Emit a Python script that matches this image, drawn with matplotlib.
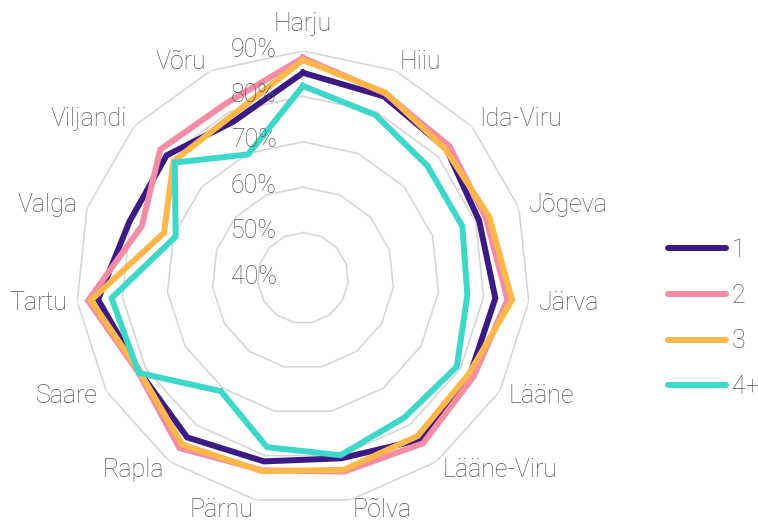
import numpy as np
from matplotlib import pyplot as plt
from matplotlib.lines import Line2D

regions = ["Harju", "Hiiu", "Ida-Viru", "Jõgeva", "Järva", "Lääne", "Lääne-Viru",
           "Põlva", "Pärnu", "Rapla", "Saare", "Tartu", "Valga", "Viljandi", "Võru"]

s1 = [85.2, 83.8, 82.5, 80.8, 82.6, 82.5, 84.0, 80.6, 81.3, 83.4, 81.5, 85.4, 80.2, 80.4, 77.7]
s2 = [88.5, 84.5, 83.4, 82.4, 85.3, 83.4, 85.0, 83.6, 83.3, 86.3, 81.8, 87.6, 77.3, 82.3, 82.0]
s3 = [88.0, 84.7, 82.3, 83.2, 86.3, 82.2, 83.0, 83.2, 83.5, 85.3, 81.5, 87.0, 72.2, 78.4, 79.0]
s4 = [82.3, 79.3, 76.9, 76.9, 76.4, 79.1, 78.0, 79.9, 78.1, 70.8, 81.8, 82.4, 69.5, 78.0, 69.8]

series_names = ["1", "2", "3", "4+"]
colors = ["#3c1a86", "#f48ca6", "#ffb74a", "#3dd8c9"]

ring_vals = [50, 60, 70, 80, 90]
ring_labels = ["40%", "50%", "60%", "70%", "80%", "90%"]
label_vals = [40, 50, 60, 70, 80, 90]

plt.rcParams["font.family"] = ["Roboto", "DejaVu Sans"]
txt_color = "#555555"
fs = 18

fig = plt.figure(figsize=(7.58, 5.22), dpi=100)
ax = fig.add_axes([76 / 758, 17 / 522, 454 / 758, 454 / 522], projection="polar")
ax.set_theta_zero_location("N")
ax.set_theta_direction(-1)
ax.set_ylim(40, 90)
ax.grid(False)
ax.spines["polar"].set_visible(False)
ax.set_xticks([])
ax.set_yticks([])
ax.patch.set_alpha(0)

n = len(regions)
theta = np.arange(n) * 2 * np.pi / n
theta_c = np.append(theta, theta[0])

for rv in ring_vals:
    ax.plot(theta_c, [rv] * (n + 1), color="#d6d6d6", lw=1.2, zorder=1)

for lab, v in zip(ring_labels, label_vals):
    ax.annotate(lab, xy=(0, v), xytext=(-19, 1), textcoords="offset points",
                ha="right", va="center", fontsize=fs, color=txt_color,
                fontweight="light", zorder=5)

for name, vals, c in zip(series_names, [s1, s2, s3, s4], colors):
    ax.plot(theta_c, vals + vals[:1], color=c, lw=4.3, solid_joinstyle="miter",
            label=name, zorder=3)

for t, name in zip(theta, regions):
    s = np.sin(t)
    if abs(s) < 0.1:
        ax.text(t, 93.2, name, ha="center", va="bottom", fontsize=fs,
                color=txt_color, fontweight="light")
    else:
        ax.text(t, 92.2, name, ha="left" if s > 0 else "right", va="center",
                fontsize=fs, color=txt_color, fontweight="light")

handles = [Line2D([], [], color=c, lw=4.3, solid_capstyle="round") for c in colors]
fig.legend(handles, series_names, loc="center left", bbox_to_anchor=(668 / 758, 0.39),
           frameon=False, handlelength=2.3, handletextpad=0.25,
           labelspacing=0.87, borderpad=0, borderaxespad=0, labelcolor=txt_color,
           prop={"weight": "light", "size": fs})

fig.savefig("out.png", dpi=100)
